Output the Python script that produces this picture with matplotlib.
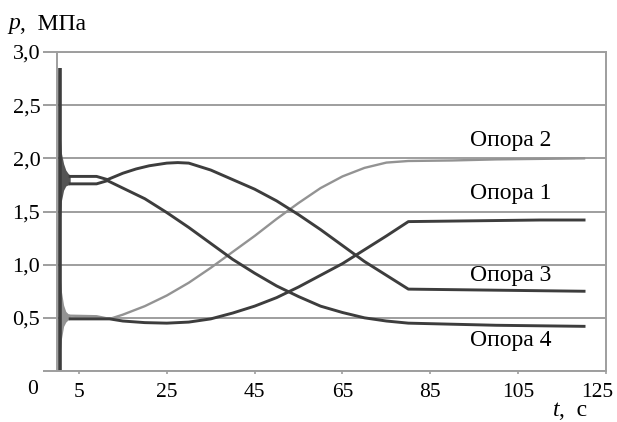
import numpy as np
import matplotlib
matplotlib.use("Agg")
from matplotlib import pyplot as plt
from matplotlib.transforms import ScaledTranslation

plt.rcParams['font.family'] = ['Liberation Serif', 'DejaVu Serif']

# pressure under each support, p (MPa) vs t (s)
t_op3 = [3, 9, 11.5, 15, 18, 21, 25, 27.5, 30, 35, 40, 45, 50, 55, 60, 65, 70, 75, 80, 90, 100, 110, 120]
p_op3 = [1.83, 1.83, 1.80, 1.86, 1.90, 1.93, 1.955, 1.96, 1.955, 1.89, 1.80, 1.71, 1.60, 1.47, 1.33, 1.18, 1.03, 0.90, 0.77, 0.765, 0.76, 0.755, 0.75]

t_op4 = [3, 9, 11.5, 15, 20, 25, 30, 35, 40, 45, 50, 55, 60, 65, 70, 75, 80, 90, 100, 110, 120]
p_op4 = [1.76, 1.76, 1.79, 1.72, 1.62, 1.49, 1.35, 1.20, 1.05, 0.92, 0.80, 0.70, 0.61, 0.55, 0.50, 0.47, 0.45, 0.44, 0.43, 0.425, 0.42]

t_op2 = [3, 9, 12, 15, 20, 25, 30, 35, 40, 45, 50, 55, 60, 65, 70, 75, 80, 90, 100, 110, 120]
p_op2 = [0.52, 0.515, 0.49, 0.53, 0.61, 0.71, 0.83, 0.97, 1.12, 1.27, 1.43, 1.58, 1.72, 1.83, 1.91, 1.96, 1.975, 1.98, 1.99, 1.995, 2.0]

t_op1 = [3, 9, 12, 15, 20, 25, 30, 35, 40, 45, 50, 55, 60, 65, 70, 75, 80, 90, 100, 110, 120]
p_op1 = [0.49, 0.49, 0.49, 0.47, 0.455, 0.45, 0.46, 0.49, 0.545, 0.61, 0.69, 0.79, 0.90, 1.01, 1.14, 1.27, 1.405, 1.41, 1.415, 1.42, 1.42]

# start-up transient: impact peak and decaying oscillation envelopes
spike_t = 0.7
spike_peak = 2.85
t_tr = [0.3, 0.6, 1.0, 1.5, 2.0, 2.5, 3.0]
hi_top = [2.85, 2.30, 2.05, 1.95, 1.89, 1.86, 1.84]
lo_top = [0.00, 1.30, 1.60, 1.70, 1.74, 1.75, 1.755]
hi_bot = [1.40, 0.95, 0.75, 0.62, 0.56, 0.54, 0.53]
lo_bot = [0.00, 0.10, 0.30, 0.42, 0.46, 0.48, 0.485]

labels = ["Опора 2", "Опора 1", "Опора 3", "Опора 4"]
label_y = [2.17, 1.67, 0.90, 0.29]

yticks = [0, 0.5, 1.0, 1.5, 2.0, 2.5, 3.0]
ytick_labels = ["", "0,5", "1,0", "1,5", "2,0", "2,5", "3,0"]
xticks = [5, 25, 45, 65, 85, 105, 125]

dark = "#3d3d3d"
light = "#939393"
grid = "#9e9e9e"

fig = plt.figure(figsize=(6.17, 4.22), dpi=100)
ax = fig.add_axes([57 / 617, 51 / 422, 549 / 617, 319 / 422])

ax.fill_between(t_tr, lo_bot, hi_bot, color=light, lw=0)
ax.fill_between(t_tr, lo_top, hi_top, color="#555555", lw=0)
ax.vlines(spike_t, 0, spike_peak, color=dark, lw=2.6)

ax.plot(t_op2, p_op2, color=light, lw=1.7)
ax.plot(t_op1, p_op1, color=dark, lw=2.1)
ax.plot(t_op3, p_op3, color=dark, lw=2.1)
ax.plot(t_op4, p_op4, color=dark, lw=2.1)

for text, y in zip(labels, label_y):
    ax.text(94, y, text, fontsize=17, va="center", ha="left")

ax.set_xlim(0, 125)
ax.set_ylim(0, 3.0)
ax.set_yticks(yticks)
ax.set_yticklabels(ytick_labels)
ax.set_xticks(xticks)
ax.set_xticklabels([str(x) for x in xticks])
ax.yaxis.grid(True, color=grid, lw=1.4)
ax.set_axisbelow(True)

ax.tick_params(axis="y", length=10, width=1.4, color=grid, pad=2, labelsize=16)
ax.tick_params(axis="x", length=2.5, width=1.2, color=grid, pad=6, labelsize=15.5)
for side in ["left", "right", "top", "bottom"]:
    ax.spines[side].set_color(grid)
    ax.spines[side].set_linewidth(1.4)

# pull the last tick label inside the figure
last = ax.get_xticklabels()[-1]
last.set_transform(last.get_transform() + ScaledTranslation(-6 / 72, 0, fig.dpi_scale_trans))

# origin label and axis captions
fig.text(33 / 617, 1 - 390 / 422, "0", fontsize=15.5, ha="center", va="center")
fig.text(8 / 617, 1 - 24 / 422, "p", fontsize=17, style="italic", va="center")
fig.text(20 / 617, 1 - 24 / 422, ",  МПа", fontsize=17, va="center")
fig.text(553 / 617, 1 - 410 / 422, "t", fontsize=17, style="italic", va="center")
fig.text(559 / 617, 1 - 410 / 422, ",  с", fontsize=17, va="center")

fig.savefig("out.png", dpi=100)
